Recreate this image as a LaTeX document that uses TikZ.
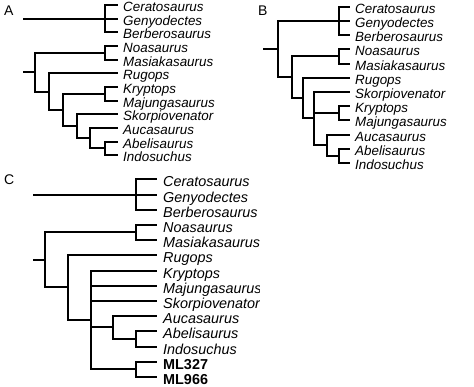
\documentclass[tikz,border=0pt]{standalone}
\usepackage{fontspec}
\setmainfont{Liberation Sans}
\begin{document}
\begin{tikzpicture}[x=1pt,y=-1pt,
  br/.style={line width=2.5pt,line join=miter,line cap=butt},
  leafAB/.style={anchor=base west,inner sep=0pt,font=\fontsize{13.4}{14}\selectfont\itshape},
  leafC/.style={anchor=base west,inner sep=0pt,font=\fontsize{14.4}{15}\selectfont\itshape},
  leafCb/.style={anchor=base west,inner sep=0pt,font=\fontsize{14.4}{15}\selectfont\bfseries},
  panlab/.style={anchor=base west,inner sep=0pt,font=\fontsize{14}{15}\selectfont}]
\useasboundingbox (0,0) rectangle (474,387);

% ---------------- Panel A ----------------
\node[panlab] (labA) at (4,16) {A};
\foreach \i/\y/\t in {0/5/Ceratosaurus,1/19/Genyodectes,2/32/Berberosaurus,3/46/Noasaurus,4/60/Masiakasaurus,5/73/Rugops,6/87/Kryptops,7/101/Majungasaurus,8/114/Skorpiovenator,9/128/Aucasaurus,10/142/Abelisaurus,11/155/Indosuchus}{
  \coordinate (a\i) at (118,\y);
  \node[leafAB] (ta\i) at ([shift={(5,7)}]a\i) {\t};
}
\coordinate (Ar1) at (23,19);
\coordinate (Ag1) at (105,19);
\coordinate (Ar2) at (23,72);
\coordinate (An1) at (35,72);
\coordinate (Ag2) at (105,53);
\coordinate (An2) at (49,92);
\coordinate (An3) at (63,110);
\coordinate (Ag3) at (105,94);
\coordinate (An4) at (77,126);
\coordinate (An5) at (90,138);
\coordinate (Ag4) at (105,148);
\draw[br] (Ar1) -- (Ag1);
\draw[br] (Ag1) |- (a0);
\draw[br] (Ag1) |- (a1);
\draw[br] (Ag1) |- (a2);
\draw[br] (Ar2) -- (An1);
\draw[br] (An1) |- (Ag2);
\draw[br] (An1) |- (An2);
\draw[br] (Ag2) |- (a3);
\draw[br] (Ag2) |- (a4);
\draw[br] (An2) |- (a5);
\draw[br] (An2) |- (An3);
\draw[br] (An3) |- (Ag3);
\draw[br] (An3) |- (An4);
\draw[br] (Ag3) |- (a6);
\draw[br] (Ag3) |- (a7);
\draw[br] (An4) |- (a8);
\draw[br] (An4) |- (An5);
\draw[br] (An5) |- (a9);
\draw[br] (An5) |- (Ag4);
\draw[br] (Ag4) |- (a10);
\draw[br] (Ag4) |- (a11);

% ---------------- Panel B ----------------
\node[panlab] (labB) at (258,15.5) {B};
\foreach \i/\y/\t in {0/7/Ceratosaurus,1/21/Genyodectes,2/35/Berberosaurus,3/49/Noasaurus,4/64/Masiakasaurus,5/78/Rugops,6/92/Skorpiovenator,7/106/Kryptops,8/120/Majungasaurus,9/135/Aucasaurus,10/149/Abelisaurus,11/163/Indosuchus}{
  \coordinate (b\i) at (350,\y);
  \node[leafAB] (tb\i) at ([shift={(5,7)}]b\i) {\t};
}
\coordinate (Br) at (263,49);
\coordinate (Bn0) at (278,49);
\coordinate (Bg1) at (339,21);
\coordinate (Bn1) at (292,77);
\coordinate (Bg2) at (339,56);
\coordinate (Bn2) at (303,98);
\coordinate (Bn3) at (314,118);
\coordinate (Bg3) at (339,113);
\coordinate (Bn4) at (327,145);
\coordinate (Bg4) at (339,156);
\draw[br] (Br) -- (Bn0);
\draw[br] (Bn0) |- (Bg1);
\draw[br] (Bn0) |- (Bn1);
\draw[br] (Bg1) |- (b0);
\draw[br] (Bg1) |- (b1);
\draw[br] (Bg1) |- (b2);
\draw[br] (Bn1) |- (Bg2);
\draw[br] (Bn1) |- (Bn2);
\draw[br] (Bg2) |- (b3);
\draw[br] (Bg2) |- (b4);
\draw[br] (Bn2) |- (b5);
\draw[br] (Bn2) |- (Bn3);
\draw[br] (Bn3) |- (b6);
\draw[br] (Bn3) |- (Bg3);
\draw[br] (Bn3) |- (Bn4);
\draw[br] (Bg3) |- (b7);
\draw[br] (Bg3) |- (b8);
\draw[br] (Bn4) |- (b9);
\draw[br] (Bn4) |- (Bg4);
\draw[br] (Bg4) |- (b10);
\draw[br] (Bg4) |- (b11);

% ---------------- Panel C ----------------
\node[panlab] (labC) at (4,185) {C};
\begin{scope}
\clip (0,170) rectangle (259,387);
\foreach \i/\y/\t in {0/179/Ceratosaurus,1/195/Genyodectes,2/210/Berberosaurus,3/225/Noasaurus,4/240/Masiakasaurus,5/255/Rugops,6/271/Kryptops,7/286/Majungasaurus,8/301/Skorpiovenator,9/316/Aucasaurus,10/331/Abelisaurus,11/347/Indosuchus}{
  \coordinate (c\i) at (157,\y);
  \node[leafC] (tc\i) at ([shift={(6,7.5)}]c\i) {\t};
}
\foreach \i/\y/\t in {12/362/ML327,13/377/ML966}{
  \coordinate (c\i) at (157,\y);
  \node[leafCb] (tc\i) at ([shift={(6,7.5)}]c\i) {\t};
}
\end{scope}
\coordinate (Cr1) at (33,195);
\coordinate (Cg1) at (136,195);
\coordinate (Cr2) at (33,260);
\coordinate (Cn0) at (45,260);
\coordinate (Cg2) at (136,232);
\coordinate (Cn1) at (68,287);
\coordinate (Cn2) at (91,320);
\coordinate (Cn3) at (113,327);
\coordinate (Cg3) at (136,339);
\coordinate (Cg4) at (136,369);
\draw[br] (Cr1) -- (Cg1);
\draw[br] (Cg1) |- (c0);
\draw[br] (Cg1) |- (c1);
\draw[br] (Cg1) |- (c2);
\draw[br] (Cr2) -- (Cn0);
\draw[br] (Cn0) |- (Cg2);
\draw[br] (Cn0) |- (Cn1);
\draw[br] (Cg2) |- (c3);
\draw[br] (Cg2) |- (c4);
\draw[br] (Cn1) |- (c5);
\draw[br] (Cn1) |- (Cn2);
\draw[br] (Cn2) |- (c6);
\draw[br] (Cn2) |- (c7);
\draw[br] (Cn2) |- (c8);
\draw[br] (Cn2) |- (Cn3);
\draw[br] (Cn2) |- (Cg4);
\draw[br] (Cn3) |- (c9);
\draw[br] (Cn3) |- (Cg3);
\draw[br] (Cg3) |- (c10);
\draw[br] (Cg3) |- (c11);
\draw[br] (Cg4) |- (c12);
\draw[br] (Cg4) |- (c13);
\end{tikzpicture}
\end{document}
